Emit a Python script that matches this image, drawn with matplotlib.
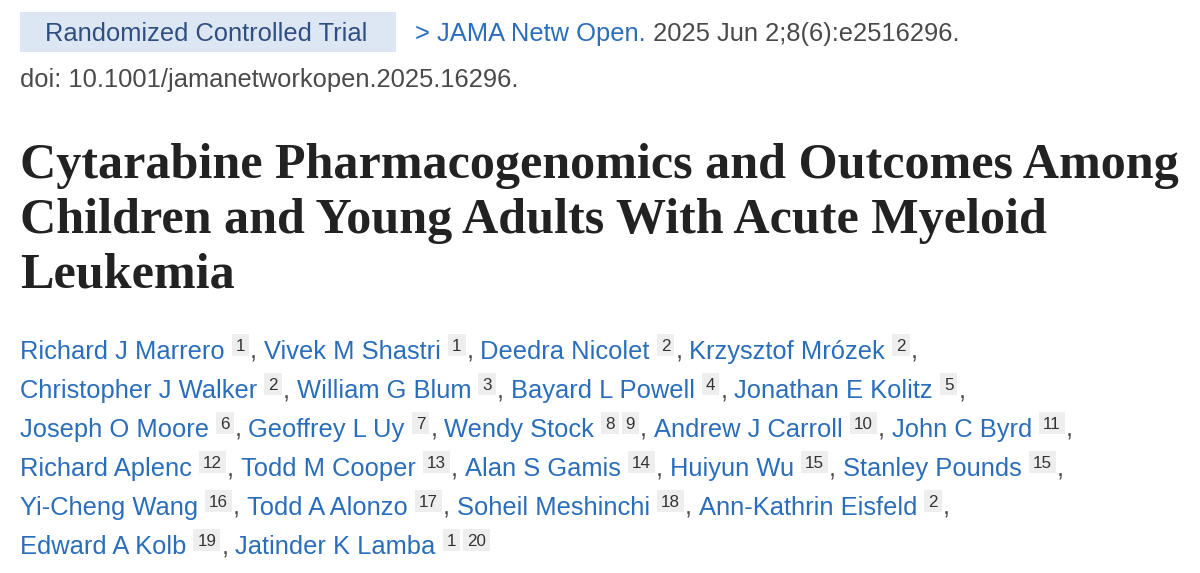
import matplotlib
matplotlib.use("Agg")
import matplotlib.pyplot as plt

badge = "Randomized Controlled Trial"
journal = "JAMA Netw Open."
citation = " 2025 Jun 2;8(6):e2516296."
doi = "doi: 10.1001/jamanetworkopen.2025.16296."
title_lines = ["Cytarabine Pharmacogenomics and Outcomes Among",
               "Children and Young Adults With Acute Myeloid",
               "Leukemia"]
author_lines = [
    [("Richard J Marrero", ["1"]), ("Vivek M Shastri", ["1"]), ("Deedra Nicolet", ["2"]), ("Krzysztof Mrózek", ["2"])],
    [("Christopher J Walker", ["2"]), ("William G Blum", ["3"]), ("Bayard L Powell", ["4"]), ("Jonathan E Kolitz", ["5"])],
    [("Joseph O Moore", ["6"]), ("Geoffrey L Uy", ["7"]), ("Wendy Stock", ["8", "9"]), ("Andrew J Carroll", ["10"]), ("John C Byrd", ["11"])],
    [("Richard Aplenc", ["12"]), ("Todd M Cooper", ["13"]), ("Alan S Gamis", ["14"]), ("Huiyun Wu", ["15"]), ("Stanley Pounds", ["15"])],
    [("Yi-Cheng Wang", ["16"]), ("Todd A Alonzo", ["17"]), ("Soheil Meshinchi", ["18"]), ("Ann-Kathrin Eisfeld", ["2"])],
    [("Edward A Kolb", ["19"]), ("Jatinder K Lamba", ["1", "20"])],
]

W, H = 1200, 573
fig = plt.figure(figsize=(12, 5.73), dpi=100)
fig.patch.set_facecolor("white")
ax = fig.add_axes([0, 0, 1, 1])
ax.set_xlim(0, W)
ax.set_ylim(H, 0)
ax.axis("off")
fig.canvas.draw()
r = fig.canvas.get_renderer()

BLUE = "#2a6ebb"
GRAY = "#4a4a4a"
SANS = "Liberation Sans"
PT = 72 / 100  # px -> pt
FS = 25.5


def put(x, y, s, size_px, color, **kw):
    t = ax.text(x, y, s, fontsize=size_px * PT, color=color, va="baseline",
                ha="left", family=kw.pop("family", SANS), **kw)
    bb = t.get_window_extent(renderer=r)
    return x + bb.width, t

# badge
ax.add_patch(plt.Rectangle((20, 12), 376, 40, color="#dde7f4", lw=0))
put(45, 41, badge, FS, "#2f4f80")
x, _ = put(415, 41, "> ", FS, BLUE)
x, _ = put(x, 41, journal, FS, BLUE)
put(x, 41, citation, FS, GRAY)
put(20, 87, doi, FS, GRAY)

# title, fitted to the reference line width
tsize = 40
_, t = put(20, 178, title_lines[0], tsize, "#222222", family="Liberation Serif", weight="bold")
w = t.get_window_extent(renderer=r).width
tsize *= 1160 / w
t.remove()
for i, line in enumerate(title_lines):
    put(20, 178 + 55 * i, line, tsize, "#222222", family="Liberation Serif", weight="bold")

# authors
for i, line in enumerate(author_lines):
    y = 359 + 39 * i
    x = 20
    for j, (name, sups) in enumerate(line):
        x, _ = put(x, y, name, FS, BLUE)
        x += 7
        for s in sups:
            x2, t = put(x + 4, y - 8, s, 17, "#333333")
            ax.add_patch(plt.Rectangle((x, y - 25), x2 - x + 4, 22, color="#eeeeee", lw=0, zorder=0))
            x = x2 + 7
        last = (j == len(line) - 1) and (i == len(author_lines) - 1)
        if not last:
            x, _ = put(x - 2, y, ",", FS, GRAY)
            x += 7

fig.savefig("out.png", dpi=100, facecolor="white")
